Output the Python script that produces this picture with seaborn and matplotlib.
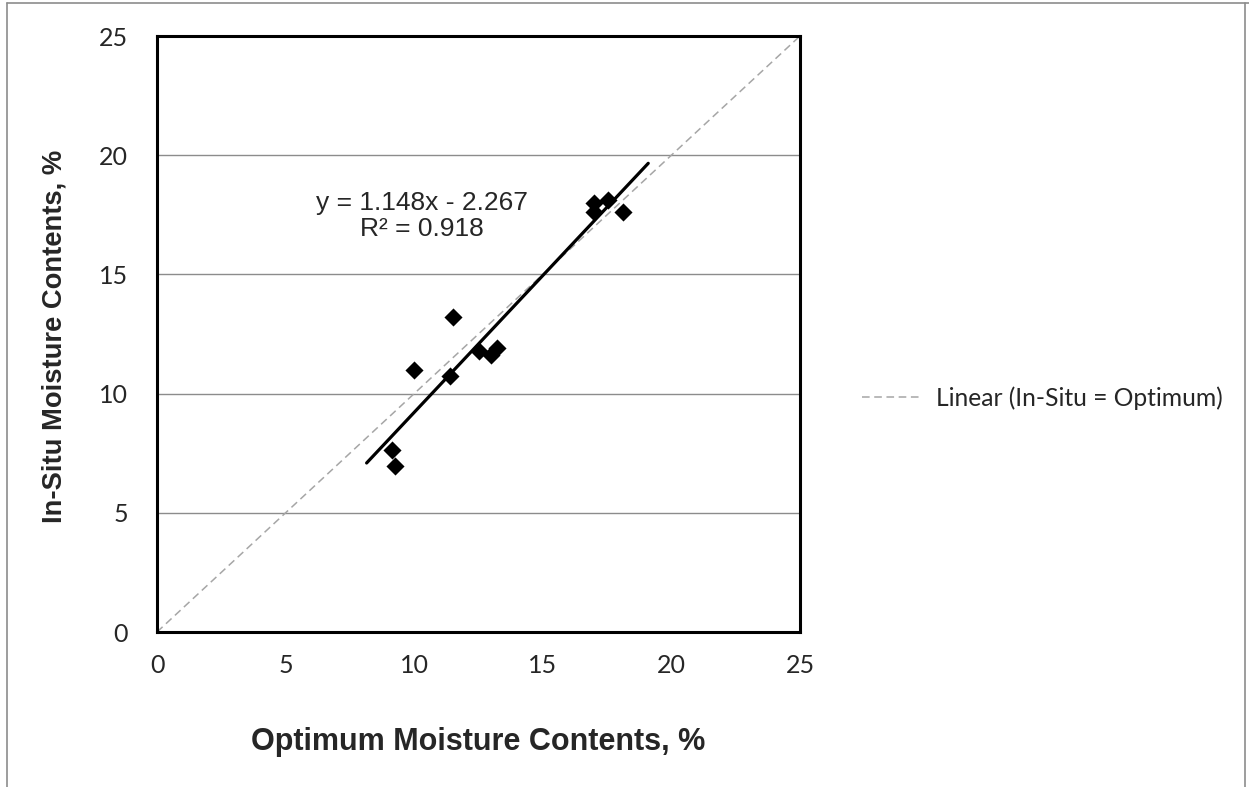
import numpy as np
import matplotlib
matplotlib.use("Agg")
import matplotlib.pyplot as plt
import seaborn as sns
import pandas as pd
from matplotlib.lines import Line2D

# ---- data ----
optimum = [11.5, 10.0, 11.4, 12.5, 13.0, 13.2, 9.15, 9.25, 17.0, 17.0, 17.55, 18.1]
insitu = [13.2, 11.0, 10.75, 11.8, 11.6, 11.9, 7.65, 6.95, 18.0, 17.6, 18.1, 17.6]
slope = 1.148
intercept = -2.267
r2 = 0.918
forecast = 1.0  # trendline extended 1 unit beyond data range
equality_x = [0, 25]
ticks = [0, 5, 10, 15, 20, 25]

df = pd.DataFrame({"Optimum": optimum, "InSitu": insitu})

sns.set_theme(style="white")
plt.rcParams["font.family"] = ["Liberation Sans", "DejaVu Sans"]

fig = plt.figure(figsize=(12.49, 7.87), dpi=100)
ax = fig.add_axes([157 / 1249, 1 - 632 / 787, (800 - 157) / 1249, (632 - 36) / 787])

# horizontal gridlines
ax.set_axisbelow(True)
ax.yaxis.grid(True, color="#8c8c8c", linewidth=1.0)
ax.xaxis.grid(False)

# equality line
eq_line, = ax.plot(equality_x, equality_x, color="#a6a6a6", linestyle=(0, (5, 3)),
                   linewidth=1.1, label="Linear (In-Situ = Optimum)", zorder=2)

# trendline
xt = np.array([min(optimum) - forecast, max(optimum) + forecast])
ax.plot(xt, slope * xt + intercept, color="black", linewidth=2.3, zorder=3,
        solid_capstyle="round")

sns.scatterplot(data=df, x="Optimum", y="InSitu", marker="D", s=85, color="black",
                edgecolor="black", linewidth=0, ax=ax, zorder=4, legend=False)

ax.set_xlim(0, 25)
ax.set_ylim(0, 25)
ax.set_xticks(ticks)
ax.set_yticks(ticks)
ax.set_xticklabels([str(t) for t in ticks], fontfamily="Lato", fontsize=18)
ax.set_yticklabels([str(t) for t in ticks], fontfamily="Lato", fontsize=18)
ax.tick_params(axis="both", length=0)
ax.tick_params(axis="x", pad=16)
ax.tick_params(axis="y", pad=21)

for sp in ax.spines.values():
    sp.set_visible(True)
    sp.set_color("black")
    sp.set_linewidth(2.2)

ax.set_xlabel("Optimum Moisture Contents, %", fontsize=22, fontweight="bold",
              va="center", ha="center")
ax.xaxis.set_label_coords((478 - 157) / 643, (632 - 742) / 596)
ax.set_ylabel("In-Situ Moisture Contents, %", fontsize=19.7, fontweight="bold",
              va="center", ha="center")
ax.yaxis.set_label_coords((55 - 157) / 643, (632 - 336) / 596)

ax.text(10.3, 17.45, f"y = {slope:.3f}x - {abs(intercept):.3f}\nR\u00b2 = {r2:.3f}",
        ha="center", va="center", fontsize=19, linespacing=1.15)

leg = fig.legend(handles=[eq_line], loc="center left",
                 bbox_to_anchor=(840 / 1249, 1 - 398 / 787), frameon=False,
                 prop={"family": "Lato", "size": 17.7}, handlelength=2.4,
                 handletextpad=0.6)

# outer chart border (gray)
fig.add_artist(Line2D([7 / 1249, 7 / 1249], [0, 1 - 3 / 787], transform=fig.transFigure,
                      color="#8c8c8c", linewidth=1.2))
fig.add_artist(Line2D([7 / 1249, 1], [1 - 3 / 787, 1 - 3 / 787], transform=fig.transFigure,
                      color="#8c8c8c", linewidth=1.2))
fig.add_artist(Line2D([1245 / 1249, 1245 / 1249], [0, 1 - 3 / 787], transform=fig.transFigure,
                      color="#8c8c8c", linewidth=1.2))

fig.savefig("out.png", dpi=100, facecolor="white")
